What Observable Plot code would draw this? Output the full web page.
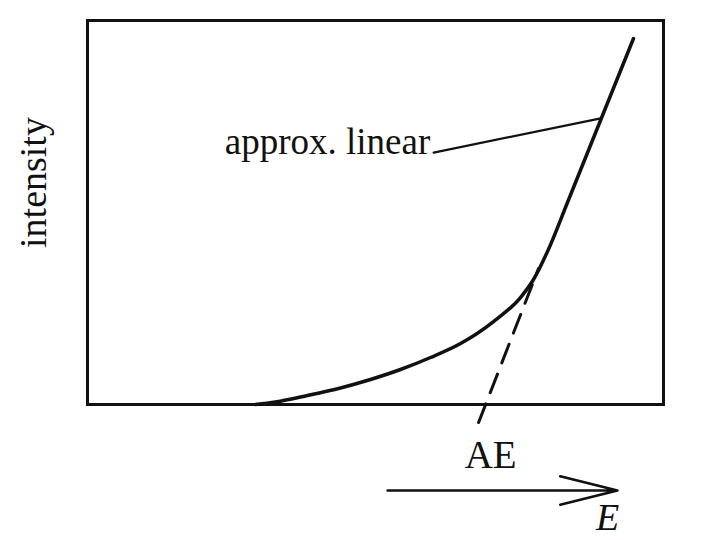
<!DOCTYPE html>
<html>
<head>
<meta charset="utf-8">
<script src="https://cdn.jsdelivr.net/npm/d3@7"></script>
<script src="https://cdn.jsdelivr.net/npm/@observablehq/plot@0.6"></script>
<style>
  html, body { margin: 0; padding: 0; background: #fff; }
  #chart svg { display: block; }
</style>
</head>
<body>
<div id="chart"></div>
<script>
// Measured curve (energy, intensity) in arbitrary units 0..100
const curveE = [29.17, 32.64, 38.19, 43.92, 49.13, 54.34, 59.55, 64.76, 70.49, 75.17, 77.43, 79.86, 83.33, 94.79];
const curveI = [0.0, 0.65, 2.34, 4.30, 6.51, 9.11, 12.24, 15.89, 21.61, 27.86, 32.55, 39.84, 52.60, 95.31];

// Dashed extrapolation of the linear part down to the axis (AE)
const dashE = [67.9, 78.3];
const dashI = [-4.7, 35.4];

// Leader line from the label to the linear part
const leaderE = [60.1, 89.1];
const leaderI = [65.6, 74.5];

// Energy arrow below the plot
const arrowE = [52.1, 92.0];
const arrowI = [-22.4, -22.4];

// Labels
const labelText = ["approx. linear", "AE", "E", "intensity"];
const labelE = [59.5, 70.0, 90.3, -9.24];
const labelI = [68.4, -13.4, -29.6, 57.8];

const curve = curveE.map((e, i) => ({e, v: curveI[i]}));
const dash = dashE.map((e, i) => ({e, v: dashI[i]}));
const leader = leaderE.map((e, i) => ({e, v: leaderI[i]}));
const labels = labelText.map((t, i) => ({t, e: labelE[i], v: labelI[i]}));

const serif = "'Liberation Serif', 'Times New Roman', serif";

const chart = Plot.plot({
  width: 720,
  height: 540,
  marginLeft: 87,
  marginRight: 57,
  marginTop: 20,
  marginBottom: 136,
  style: {background: "#fff", fontFamily: serif},
  x: {domain: [0, 100], axis: null},
  y: {domain: [0, 100], axis: null},
  marks: [
    Plot.frame({stroke: "#111", strokeWidth: 3}),
    Plot.line(curve, {x: "e", y: "v", curve: "monotone-x", stroke: "#111", strokeWidth: 3.5, strokeLinecap: "round"}),
    Plot.line(dash, {x: "e", y: "v", stroke: "#111", strokeWidth: 3, strokeDasharray: "20,12"}),
    Plot.line(leader, {x: "e", y: "v", stroke: "#111", strokeWidth: 2.2}),
    Plot.arrow({length: 1}, {x1: () => arrowE[0], x2: () => arrowE[1], y1: () => arrowI[0], y2: () => arrowI[1], stroke: "#111", strokeWidth: 2.6, headLength: 34, headAngle: 28}),
    Plot.text([labels[0]], {x: "e", y: "v", text: "t", textAnchor: "end", lineAnchor: "middle", fontSize: 37, fill: "#111", fontFamily: serif}),
    Plot.text([labels[1]], {x: "e", y: "v", text: "t", textAnchor: "middle", lineAnchor: "middle", fontSize: 39, fill: "#111", fontFamily: serif}),
    Plot.text([labels[2]], {x: "e", y: "v", text: "t", textAnchor: "middle", lineAnchor: "middle", fontSize: 38, fill: "#111", fontFamily: serif, fontStyle: "italic"}),
    Plot.text([labels[3]], {x: "e", y: "v", text: "t", textAnchor: "middle", lineAnchor: "middle", rotate: -90, fontSize: 38, fill: "#111", fontFamily: serif})
  ]
});
document.getElementById("chart").append(chart);
</script>
</body>
</html>
